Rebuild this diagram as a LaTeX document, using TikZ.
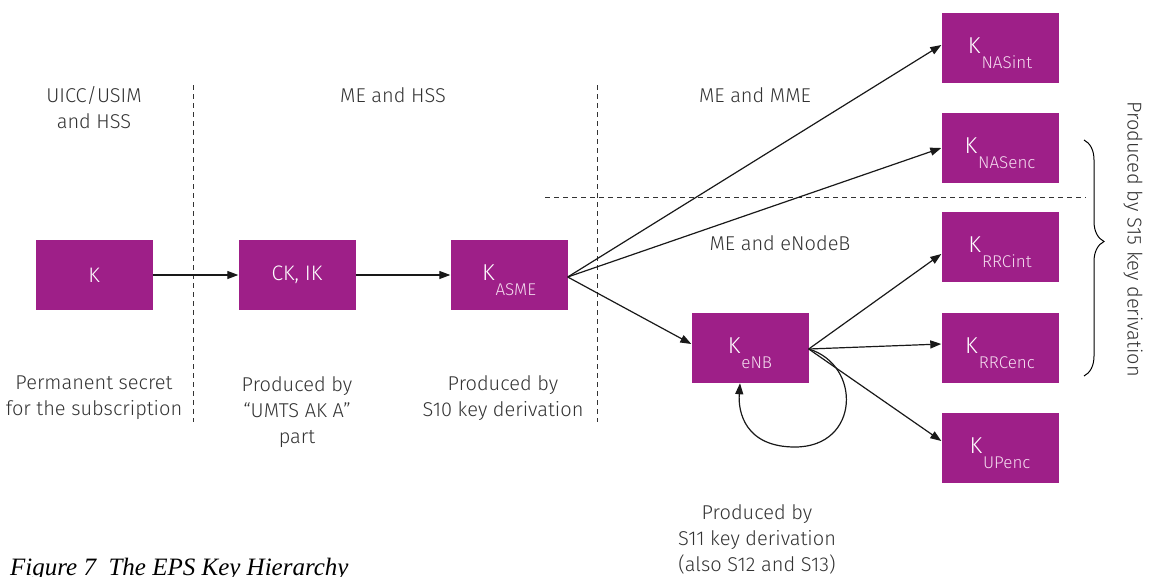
\documentclass[tikz,border=0pt]{standalone}
\usepackage{fontspec}
\setmainfont{Fira Sans Light}
\newfontfamily\capfont{Liberation Serif}
\usetikzlibrary{arrows.meta,decorations.pathreplacing}
\definecolor{boxc}{HTML}{9E1F88}
\definecolor{txt}{HTML}{333333}
\definecolor{subc}{HTML}{F5DDF0}
\tikzset{
  keybox/.style={fill=boxc, draw=none, minimum width=117pt, minimum height=70pt, inner sep=0pt},
  lbl/.style={text=txt, align=center, font=\fontsize{20}{26}\selectfont},
  conn/.style={line width=1.2pt, draw=black!90, -{Triangle[length=11pt,width=8pt]}},
  sep/.style={dash pattern=on 5pt off 4pt, line width=1pt, draw=black!80},
}
\newcommand{\kname}[1]{\raisebox{-5pt}[0pt][0pt]{\fontsize{23}{23}\selectfont\color{white}K\kern1pt\raisebox{-15pt}{\fontsize{17}{17}\selectfont\color{subc}#1}}}
\begin{document}
\begin{tikzpicture}[x=1pt,y=-1pt]
\useasboundingbox (0,0) rectangle (1156,576);
% boxes
\node[keybox] (k) at (94,275) {\fontsize{21}{21}\selectfont\color{white}K};
\node[keybox] (ckik) at (297,275) {\fontsize{21}{21}\selectfont\color{white}CK, IK};
\node[keybox] (asme) at (509,275) {\kname{ASME}};
\node[keybox] (enb) at (750,348) {\kname{eNB}};
\node[keybox] (nasint) at (1000,48) {\kname{NASint}};
\node[keybox] (nasenc) at (1000,148) {\kname{NASenc}};
\node[keybox] (rrcint) at (1000,247) {\kname{RRCint}};
\node[keybox] (rrcenc) at (1000,348) {\kname{RRCenc}};
\node[keybox] (upenc) at (1000,448) {\kname{UPenc}};
% separators
\coordinate (s1a) at (193,85); \coordinate (s1b) at (193,422);
\coordinate (s2a) at (597,85); \coordinate (s2b) at (597,422);
\coordinate (s3a) at (545,197); \coordinate (s3b) at (1086,197);
\draw[sep] (s1a) -- (s1b);
\draw[sep] (s2a) -- (s2b);
\draw[sep] (s3a) -- (s3b);
% labels
\node[lbl] (l1) at (94,108) {UICC/USIM\\and HSS};
\node[lbl] (l2) at (393,95) {ME and HSS};
\node[lbl] (l3) at (755,95) {ME and MME};
\node[lbl] (l4) at (780,243) {ME and eNodeB};
\node[lbl] (d1) at (94,398) {Permanent secret\\for the subscription};
\node[lbl] (d2) at (297,412) {Produced by\\\char"201C UMTS AK A\char"201D\\part};
\node[lbl] (d3) at (503,398) {Produced by\\S10 key derivation};
\node[lbl] (d4) at (757,539) {Produced by\\S11 key derivation\\(also S12 and S13)};
\node[text=black, anchor=base west, inner sep=0pt, font=\capfont\itshape\fontsize{25}{25}\selectfont] (cap) at (10,575) {Figure 7\ \ The EPS Key Hierarchy};
% connectors
\draw[conn] (k.east) -- (ckik.west);
\draw[conn] (ckik.east) -- (asme.west);
\coordinate (ao) at ([yshift=-2pt]asme.east);
\draw[conn] (ao) -- ([yshift=3pt]nasint.west);
\draw[conn] (ao) -- (nasenc.west);
\draw[conn] (ao) -- ([yshift=4pt]enb.west);
\coordinate (eo) at ([yshift=-1pt]enb.east);
\draw[conn] (eo) -- ([yshift=-7pt]rrcint.west);
\draw[conn] (eo) -- ([yshift=4pt]rrcenc.west);
\draw[conn] (eo) -- ([yshift=7pt]upenc.west);
\coordinate (lp) at ([xshift=-10pt]enb.south);
\draw[conn] (eo) .. controls (862,365) and (860,447) .. (795,447) .. controls (745,447) and (738,412) .. (lp);
% brace
\coordinate (ba) at (1084,140); \coordinate (bb) at (1084,376);
\draw[line width=1pt, decorate, decoration={brace, amplitude=20pt, aspect=0.43}] (ba) -- (bb);
\node[lbl, rotate=-90] (s15) at (1133,239) {Produced by S15 key derivation};
\end{tikzpicture}
\end{document}
